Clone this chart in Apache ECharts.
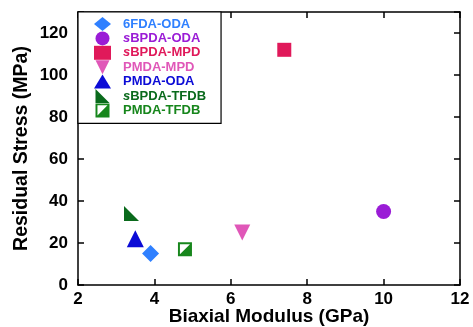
<!DOCTYPE html>
<html lang="en">
  <head>
    <meta charset="UTF-8" />
    <title>Residual Stress vs Biaxial Modulus</title>
    <script src="https://cdn.jsdelivr.net/npm/echarts@6.0.0/dist/echarts.min.js"></script>
    <style>
      body { margin: 0; background: #fff; }
    </style>
  </head>
  <body>
    <div id="chart" style="width: 473px; height: 327px"></div>

    <script type="text/javascript">
      // polymer names, in legend order
      const names = [
        "6FDA-ODA",
        "sBPDA-ODA",
        "sBPDA-MPD",
        "PMDA-MPD",
        "PMDA-ODA",
        "sBPDA-TFDB",
        "PMDA-TFDB",
      ];
      // biaxial modulus (GPa) and residual stress (MPa), one point per polymer
      const modulus = [3.9, 10.0, 7.4, 6.3, 3.5, 3.4, 4.8];
      const stress = [15, 35, 112, 25, 22, 34, 17];

      const xTicks = [2, 4, 6, 8, 10, 12];
      const yTicks = [0, 20, 40, 60, 80, 100, 120];

      const colors = ["#2f80ff", "#9a1cd6", "#e0195a", "#e057b8", "#0b0bd6", "#0a6a1c", "#17861c"];
      const symbols = [
        "diamond",
        "circle",
        "rect",
        "path://M0,0 L10,0 L5,10 Z",
        "triangle",
        "path://M0,0 L0,10 L10,10 Z",
        "path://M0,0 L10,0 L10,10 L0,10 Z M1.4,1.4 L1.4,8.6 L8.6,8.6 L8.6,1.4 Z M8.6,1.4 L8.6,8.6 L1.4,8.6 Z",
      ];
      const sizes = [17, 15, 14, 16, 17, 15, 14];

      const chart = echarts.init(document.getElementById("chart"));

      const font = "Liberation Sans, Arial, sans-serif";
      const axisBase = {
        type: "value",
        min: 0,
        interval: 20,
        axisLine: { show: true, onZero: false, lineStyle: { color: "#000", width: 1.5 } },
        axisTick: { show: true, inside: true, length: 6, lineStyle: { color: "#000", width: 1.5 } },
        splitLine: { show: false },
      };

      const option = {
        animation: false,
        grid: { left: 78, right: 13, top: 12, bottom: 42, containLabel: false, outerBoundsMode: "none" },
        legend: {
          orient: "vertical",
          left: 78,
          top: 12,
          padding: [5, 15, 6, 16],
          itemWidth: 17,
          itemHeight: 14,
          itemGap: 0.4,
          borderColor: "#000",
          borderWidth: 1.2,
          backgroundColor: "#fff",
          textStyle: {
            fontFamily: font,
            fontWeight: "bold",
            fontSize: 13,
            padding: [0, 0, 0, 7],
            rich: { i: { fontStyle: "italic", fontWeight: "bold", fontFamily: font, fontSize: 13 } },
          },
          formatter: (n) => (n.startsWith("s") ? "{i|s}" + n.slice(1) : n),
          data: names.map((n, i) => ({ name: n, textStyle: { color: colors[i] } })),
        },
        xAxis: [
          {
            ...axisBase,
            min: xTicks[0],
            max: xTicks[xTicks.length - 1],
            interval: 2,
            name: "Biaxial Modulus (GPa)",
            nameLocation: "middle",
            nameMoveOverlap: false,
            nameGap: 22,
            nameTextStyle: { fontFamily: font, fontWeight: "bold", fontSize: 19, color: "#000" },
            axisLabel: { fontFamily: font, fontWeight: "bold", fontSize: 17, color: "#000", margin: 6 },
          },
          {
            ...axisBase,
            position: "top",
            min: xTicks[0],
            max: xTicks[xTicks.length - 1],
            interval: 2,
            axisLabel: { show: false },
          },
        ],
        yAxis: [
          {
            ...axisBase,
            max: 130,
            name: "Residual Stress (MPa)",
            nameLocation: "middle",
            nameMoveOverlap: false,
            nameGap: 46,
            nameTextStyle: { fontFamily: font, fontWeight: "bold", fontSize: 19.5, color: "#000" },
            axisLabel: {
              fontFamily: font,
              fontWeight: "bold",
              fontSize: 17,
              color: "#000",
              margin: 10,
              formatter: (v) => (yTicks.includes(v) ? String(v) : ""),
            },
          },
          {
            ...axisBase,
            position: "right",
            max: 130,
            axisLabel: { show: false },
          },
        ],
        series: names.map((n, i) => ({
          name: n,
          type: "scatter",
          symbol: symbols[i],
          symbolSize: sizes[i],
          itemStyle: { color: colors[i], opacity: 1 },
          data: [[modulus[i], stress[i]]],
        })),
      };

      chart.setOption(option);
    </script>
  </body>
</html>
